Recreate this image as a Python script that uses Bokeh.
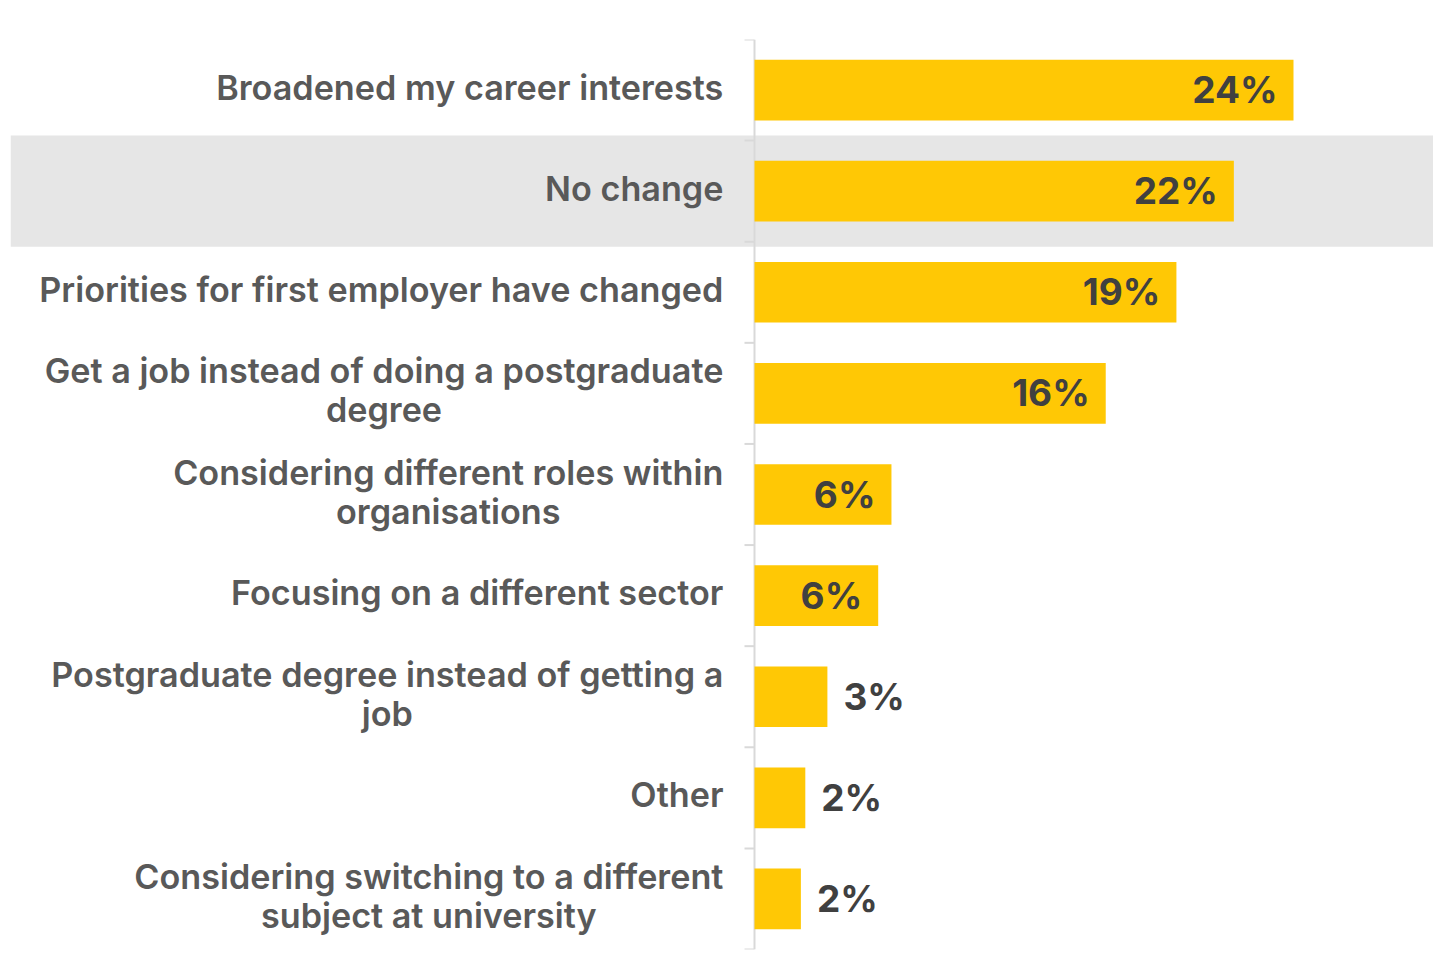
import glob
import os
import subprocess

from bokeh.plotting import figure
from bokeh.models import ColumnDataSource, Range1d
from bokeh.core.properties import value
from bokeh.embed import file_html
from bokeh.resources import INLINE

# ---------------- data ----------------
categories = [
    "Broadened my career interests",
    "No change",
    "Priorities for first employer have changed",
    "Get a job instead of doing a postgraduate degree",
    "Considering different roles within organisations",
    "Focusing on a different sector",
    "Postgraduate degree instead of getting a job",
    "Other",
    "Considering switching to a different subject at university",
]
category_lines = [
    ["Broadened my career interests"],
    ["No change"],
    ["Priorities for first employer have changed"],
    ["Get a job instead of doing a postgraduate", "degree"],
    ["Considering different roles within", "organisations"],
    ["Focusing on a different sector"],
    ["Postgraduate degree instead of getting a", "job"],
    ["Other"],
    ["Considering switching to a different", "subject at university"],
]
values = [24.4, 21.7, 19.1, 15.9, 6.2, 5.6, 3.3, 2.3, 2.1]
value_labels = ["24%", "22%", "19%", "16%", "6%", "6%", "3%", "2%", "2%"]
highlight = "No change"

# ---------------- style ----------------
FONT = "Inter"
LABEL_STYLE = "SemiBold"
BAR_COLOR = "#FFC805"
BAND_COLOR = "#E6E6E6"
AXIS_COLOR = "#D9D9D9"
LABEL_COLOR = "#595959"
VALUE_COLOR = "#404040"
FIG_W, FIG_H = 1433, 966
B_LEFT, B_RIGHT, B_TOP, B_BOTTOM = 10, 0, 39, 17
FRAME_W = FIG_W - B_LEFT - B_RIGHT
AXIS_PX = 744            # axis position from frame left
PX_PER_UNIT = 22.09
TICK_PX = 10
LABEL_GAP = 31
LINE_H = 39
VALUE_PAD = 16
TARGET_W = 684           # rendered width of the longest single-line label


def find_font_file(family, style):
    try:
        r = subprocess.run(["fc-match", "-f", "%{family}|%{style}|%{file}", f"{family}:style={style}"],
                           capture_output=True, text=True, timeout=5)
        fam, sty, path = r.stdout.split("|", 2)
        if family.lower() in fam.lower() and style.lower() in sty.lower() and os.path.exists(path):
            return path
    except Exception:
        pass
    files = []
    for root in ["/usr/share/fonts", "/usr/local/share/fonts"]:
        files += glob.glob(os.path.join(root, "**", "*.[ot]tf"), recursive=True)
    for f in files:
        if os.path.basename(f).lower().startswith(f"{family}-{style}.".lower()):
            return f
    return None


fpath = find_font_file(FONT, LABEL_STYLE)
label_family = f"{FONT} {LABEL_STYLE}" if fpath else FONT
measure = None
try:
    from PIL import ImageFont
    if fpath is None:
        fpath = find_font_file(FONT, "Regular")
    if fpath:
        f100 = ImageFont.truetype(fpath, 100)
        measure = lambda s, size: f100.getlength(s) * size / 100.0
except Exception:
    measure = None

if measure:
    label_size = 100.0 * TARGET_W / measure("Priorities for first employer have changed", 100)
else:
    label_size = 33.0
label_size = round(label_size, 1)

N = len(categories)
ys = [N - 0.5 - i for i in range(N)]
x_start = -AXIS_PX / PX_PER_UNIT
x_end = (FRAME_W - AXIS_PX) / PX_PER_UNIT

p = figure(width=FIG_W, height=FIG_H, x_range=Range1d(x_start, x_end), y_range=Range1d(0, N),
           x_axis_type=None, y_axis_type=None, output_backend="svg", toolbar_location=None,
           min_border_left=B_LEFT, min_border_right=B_RIGHT, min_border_top=B_TOP,
           min_border_bottom=B_BOTTOM)
p.grid.visible = False
p.outline_line_color = None
p.background_fill_color = "white"
p.border_fill_color = "white"

# highlight band
hy = ys[categories.index(highlight)]
p.hbar(y=[hy], left=[x_start], right=[x_end], height=1.1, color=BAND_COLOR, line_color=None)

# axis line and ticks at row boundaries
p.segment(x0=[0], y0=[0], x1=[0], y1=[N], line_color=AXIS_COLOR, line_width=2)
bounds = list(range(N + 1))
p.segment(x0=[-TICK_PX / PX_PER_UNIT] * len(bounds), y0=bounds, x1=[0] * len(bounds), y1=bounds,
          line_color=AXIS_COLOR, line_width=2)

# bars
src = ColumnDataSource(dict(y=ys, v=values, lab=value_labels, cat=categories))
p.hbar(y="y", left=0, right="v", height=0.6, source=src, color=BAR_COLOR, line_color=None)

# value labels
inside = [v >= 5 for v in values]
src_in = ColumnDataSource(dict(y=[y for y, k in zip(ys, inside) if k],
                               v=[v for v, k in zip(values, inside) if k],
                               lab=[l for l, k in zip(value_labels, inside) if k]))
src_out = ColumnDataSource(dict(y=[y for y, k in zip(ys, inside) if not k],
                                v=[v for v, k in zip(values, inside) if not k],
                                lab=[l for l, k in zip(value_labels, inside) if not k]))
common = dict(text="lab", text_font=value(FONT), text_font_style="bold", text_font_size="37px",
              text_color=VALUE_COLOR, text_baseline="alphabetic", y_offset=-0.5)
p.text(x="v", y="y", source=src_in, text_align="right", x_offset=-VALUE_PAD, **common)
p.text(x="v", y="y", source=src_out, text_align="left", x_offset=VALUE_PAD, **common)

# category labels (lines centred within a right-aligned block)
lx, ly, lt, lxo, lyo = [], [], [], [], []
for y, lines in zip(ys, category_lines):
    n = len(lines)
    if measure:
        W = max(measure(s, label_size) for s in lines)
    for k, s in enumerate(lines):
        lx.append(0)
        ly.append(y)
        lt.append(s)
        lxo.append(-(LABEL_GAP + W / 2) if measure else -LABEL_GAP)
        lyo.append(-3 + (k - (n - 1) / 2) * LINE_H)
lab_src = ColumnDataSource(dict(x=lx, y=ly, text=lt, xo=lxo, yo=lyo))
p.text(x="x", y="y", text="text", source=lab_src, x_offset="xo", y_offset="yo",
       text_align="center" if measure else "right", text_baseline="alphabetic",
       text_font=value(label_family), text_font_size=f"{label_size}px", text_color=LABEL_COLOR)

open("out.html", "w").write(file_html(p, INLINE))
